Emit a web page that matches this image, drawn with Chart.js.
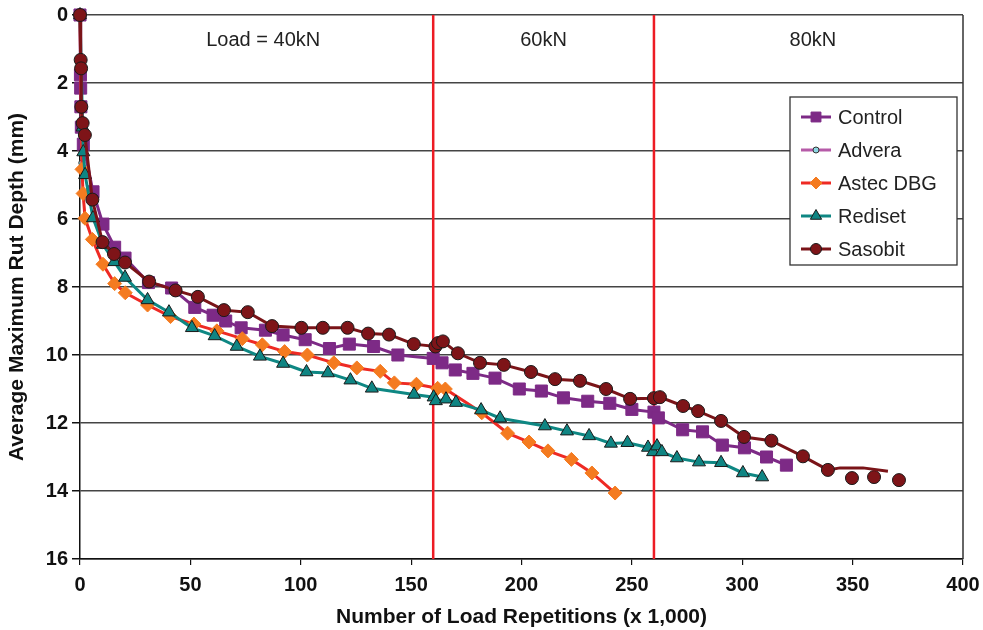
<!DOCTYPE html>
<html>
<head>
<meta charset="utf-8">
<script src="https://cdn.jsdelivr.net/npm/chart.js@4.4.1/dist/chart.umd.min.js"></script>
<style>
  html, body { margin: 0; padding: 0; background: #fff; }
  #rut { display: block; }
</style>
</head>
<body>
<canvas id="rut" width="983" height="630"></canvas>
<script>
// Rut depth (mm) vs load repetitions (x 1,000)
const control = [
  [0,0],[0.2,1.76],[0.3,2.15],[0.4,2.7],[0.6,3.3],[1.5,3.8],[5.9,5.2],[10.4,6.15],[15.7,6.83],
  [20.4,7.15],[31,7.87],[41.5,8.03],[52,8.6],[60.3,8.83],[66,9.0],[73,9.2],[84,9.27],[92,9.41],
  [102,9.55],[113,9.81],[122,9.68],[133,9.75],[144,10.0],[160,10.1],[164,10.23],[170,10.44],
  [178,10.54],[188,10.68],[199,11.0],[209,11.06],[219,11.26],[230,11.36],[240,11.42],[250,11.6],
  [260,11.68],[262,11.85],[273,12.2],[282,12.26],[291,12.65],[301,12.73],[311,13.0],[320,13.24]
];
const advera = [[0,0],[0.8,4.35],[2.2,6.05]];
const astec = [
  [0,0],[0.9,4.54],[1.4,5.25],[2.3,5.98],[5.6,6.6],[10.4,7.33],[15.7,7.9],[20.5,8.17],[30.6,8.53],
  [41,8.87],[51.6,9.09],[62,9.29],[73.5,9.52],[82.6,9.7],[92.7,9.9],[103,10.0],[115,10.23],
  [125.4,10.38],[136,10.48],[142.4,10.82],[152.4,10.86],[162,10.98],[165.5,11.0],[182,11.7],
  [193.7,12.3],[203.4,12.56],[212,12.82],[222.6,13.07],[231.9,13.47],[242.4,14.06]
];
const rediset = [
  [0,0],[1.2,3.3],[1.5,4.03],[2.3,4.7],[5.9,5.97],[10.4,6.75],[15.6,7.26],[20.4,7.72],[30.6,8.38],
  [40.3,8.74],[50.7,9.2],[61,9.44],[71,9.75],[81.5,10.04],[92,10.25],[102.6,10.5],[112.3,10.53],
  [122.5,10.74],[132.2,10.98],[151.3,11.16],[160.2,11.24],[161.2,11.35],[165.8,11.3],[170.3,11.4],
  [181.7,11.62],[190.3,11.86],[210.6,12.09],[220.6,12.24],[230.6,12.38],[240.5,12.6],[248,12.58],
  [257.3,12.72],[259.6,12.85],[261.4,12.68],[263.6,12.85],[270.4,13.03],[280.4,13.15],
  [290.4,13.17],[300.3,13.47],[309,13.59]
];
const sasobit = [
  [0,0],[0.3,1.32],[0.5,1.57],[0.6,2.7],[1.2,3.18],[2.2,3.53],[5.6,5.43],[10.2,6.68],[15.4,7.03],
  [20.4,7.28],[31.3,7.84],[43.3,8.1],[53.4,8.29],[65.2,8.68],[76,8.74],[87,9.15],[100.3,9.2],
  [110,9.2],[121.2,9.2],[130.5,9.37],[140,9.4],[151.2,9.68],[161,9.75],[162.2,9.65],[164.4,9.6],
  [171.2,9.95],[181.2,10.23],[192,10.29],[204.3,10.5],[215.2,10.71],[226.5,10.76],[238.3,11.0],
  [249.2,11.29],[260,11.27],[262.7,11.24],[273.2,11.5],[280,11.65],[290.4,11.94],[300.8,12.41],
  [313.2,12.52],[327.5,12.98],[338.8,13.38]
];
const sasobitTrend = [[338.8,13.38],[344.3,13.32],[354.7,13.32],[366,13.42]];
const sasobitTail = [[349.7,13.62],[359.7,13.59],[371,13.68]];

const loadChangeX = [160, 260];
const loadLabels = ['Load = 40kN', '60kN', '80kN'];
const loadLabelX = [83, 210, 332];

const xTicks = [0, 50, 100, 150, 200, 250, 300, 350, 400];
const yTicks = [0, 2, 4, 6, 8, 10, 12, 14, 16];

const FONT = "'Liberation Sans', Arial, Helvetica, sans-serif";

const toXY = arr => arr.map(p => ({ x: p[0], y: p[1] }));

// series styles, also used by the legend
const series = [
  { label: 'Control', data: control, line: '#7D2A86', fill: '#7D2A86', edge: '#7D2A86', shape: 'rect', r: 8.5, lr: 7, w: 3, order: 5 },
  { label: 'Advera', data: advera, line: '#B65BA8', fill: '#8CD6E2', edge: '#333333', shape: 'circle', r: 3, lr: 3, w: 2, order: 4 },
  { label: 'Astec DBG', data: astec, line: '#EE2A24', fill: '#F47B20', edge: '#F47B20', shape: 'rectRot', r: 7, lr: 6, w: 3, order: 3 },
  { label: 'Rediset', data: rediset, line: '#0E8783', fill: '#0F8583', edge: '#1A1A1A', shape: 'triangle', r: 7.5, lr: 6.5, w: 3, order: 2 },
  { label: 'Sasobit', data: sasobit, line: '#7A1418', fill: '#7E1418', edge: '#1A1A1A', shape: 'circle', r: 6.5, lr: 5.5, w: 3, order: 1 }
];

const datasets = series.map(s => ({
  label: s.label,
  data: toXY(s.data),
  showLine: true,
  borderColor: s.line,
  borderWidth: s.w,
  pointStyle: s.shape,
  pointRadius: s.r,
  pointBackgroundColor: s.fill,
  pointBorderColor: s.edge,
  pointBorderWidth: 1,
  tension: 0,
  clip: false,
  order: s.order
}));

// Sasobit trend line past the last joined point, and the loose points after it
datasets.push({
  label: 'Sasobit trend', data: toXY(sasobitTrend), showLine: true,
  borderColor: '#7A1418', borderWidth: 3, pointRadius: 0, clip: false, order: 1
});
datasets.push({
  label: 'Sasobit tail', data: toXY(sasobitTail), showLine: false,
  pointStyle: 'circle', pointRadius: 6.5, pointBackgroundColor: '#7E1418',
  pointBorderColor: '#1A1A1A', pointBorderWidth: 1, clip: false, order: 1
});

// red lines where the load changes
loadChangeX.forEach(x => {
  datasets.push({
    label: 'load ' + x, data: [{ x: x, y: 0 }, { x: x, y: 16 }], showLine: true,
    borderColor: '#ED1C24', borderWidth: 2.5, pointRadius: 0, order: 10
  });
});

function drawMarker(ctx, s, x, y) {
  const r = s.lr;
  ctx.save();
  ctx.fillStyle = s.fill;
  ctx.strokeStyle = s.edge;
  ctx.lineWidth = 1;
  ctx.beginPath();
  if (s.shape === 'rect') {
    const h = r * Math.SQRT1_2;
    ctx.rect(x - h, y - h, 2 * h, 2 * h);
  } else if (s.shape === 'rectRot') {
    ctx.moveTo(x, y - r); ctx.lineTo(x + r, y); ctx.lineTo(x, y + r); ctx.lineTo(x - r, y);
    ctx.closePath();
  } else if (s.shape === 'triangle') {
    ctx.moveTo(x, y - r); ctx.lineTo(x + r * 0.866, y + r * 0.5); ctx.lineTo(x - r * 0.866, y + r * 0.5);
    ctx.closePath();
  } else {
    ctx.arc(x, y, r, 0, Math.PI * 2);
  }
  ctx.fill();
  ctx.stroke();
  ctx.restore();
}

const decorations = {
  id: 'decorations',
  afterDraw(chart) {
    const ctx = chart.ctx;
    const area = chart.chartArea;
    const xs = chart.scales.x, ys = chart.scales.y;

    // right frame
    ctx.save();
    ctx.strokeStyle = '#333';
    ctx.lineWidth = 1.5;
    ctx.beginPath();
    ctx.moveTo(area.right, area.top);
    ctx.lineTo(area.right, area.bottom);
    ctx.stroke();

    // load labels
    ctx.fillStyle = '#222';
    ctx.font = '20px ' + FONT;
    ctx.textAlign = 'center';
    ctx.textBaseline = 'middle';
    loadLabels.forEach((t, i) => {
      ctx.fillText(t, xs.getPixelForValue(loadLabelX[i]), ys.getPixelForValue(0.74));
    });

    // legend
    const bx = 790, by = 97, bw = 167, bh = 168;
    ctx.fillStyle = '#fff';
    ctx.fillRect(bx, by, bw, bh);
    ctx.strokeStyle = '#333';
    ctx.lineWidth = 1.3;
    ctx.strokeRect(bx, by, bw, bh);
    ctx.font = '20px ' + FONT;
    ctx.textAlign = 'left';
    series.forEach((s, i) => {
      const y = 117 + i * 33;
      ctx.strokeStyle = s.line;
      ctx.lineWidth = 3;
      ctx.beginPath();
      ctx.moveTo(801, y);
      ctx.lineTo(831, y);
      ctx.stroke();
      drawMarker(ctx, s, 816, y);
      ctx.fillStyle = '#222';
      ctx.fillText(s.label, 838, y + 1);
    });
    ctx.restore();
  }
};

new Chart(document.getElementById('rut'), {
  type: 'scatter',
  data: { datasets: datasets },
  options: {
    responsive: false,
    animation: false,
    devicePixelRatio: 1,
    layout: { padding: { top: 15, right: 20, left: 0, bottom: 0 } },
    plugins: { legend: { display: false }, tooltip: { enabled: false } },
    scales: {
      x: {
        type: 'linear', min: 0, max: 400,
        afterBuildTicks: s => { s.ticks = xTicks.map(v => ({ value: v })); },
        afterFit: s => { s.height = 71; s.paddingLeft = 0; s.paddingRight = 0; },
        ticks: { color: '#111', font: { family: FONT, size: 20, weight: 'bold' }, padding: 8, maxRotation: 0 },
        grid: { drawOnChartArea: false, color: '#111', tickLength: 6, lineWidth: 1.2 },
        border: { color: '#111', width: 1.5 },
        title: {
          display: true, text: 'Number of Load Repetitions (x 1,000)', color: '#111',
          font: { family: FONT, size: 21, weight: 'bold' }, padding: { top: 0, bottom: 0 }
        }
      },
      y: {
        type: 'linear', min: 0, max: 16, reverse: true,
        afterBuildTicks: s => { s.ticks = yTicks.map(v => ({ value: v })); },
        afterFit: s => { s.width = 80; s.paddingTop = 0; s.paddingBottom = 0; },
        ticks: { color: '#111', font: { family: FONT, size: 20, weight: 'bold' }, padding: 4 },
        grid: { color: '#444', lineWidth: 1.5, tickLength: 8, tickColor: '#111' },
        border: { color: '#111', width: 1.5 },
        title: {
          display: true, text: 'Average Maximum Rut Depth (mm)', color: '#111',
          font: { family: FONT, size: 21, weight: 'bold' }, padding: { top: 5, bottom: 0 }
        }
      }
    }
  },
  plugins: [decorations]
});
</script>
</body>
</html>
